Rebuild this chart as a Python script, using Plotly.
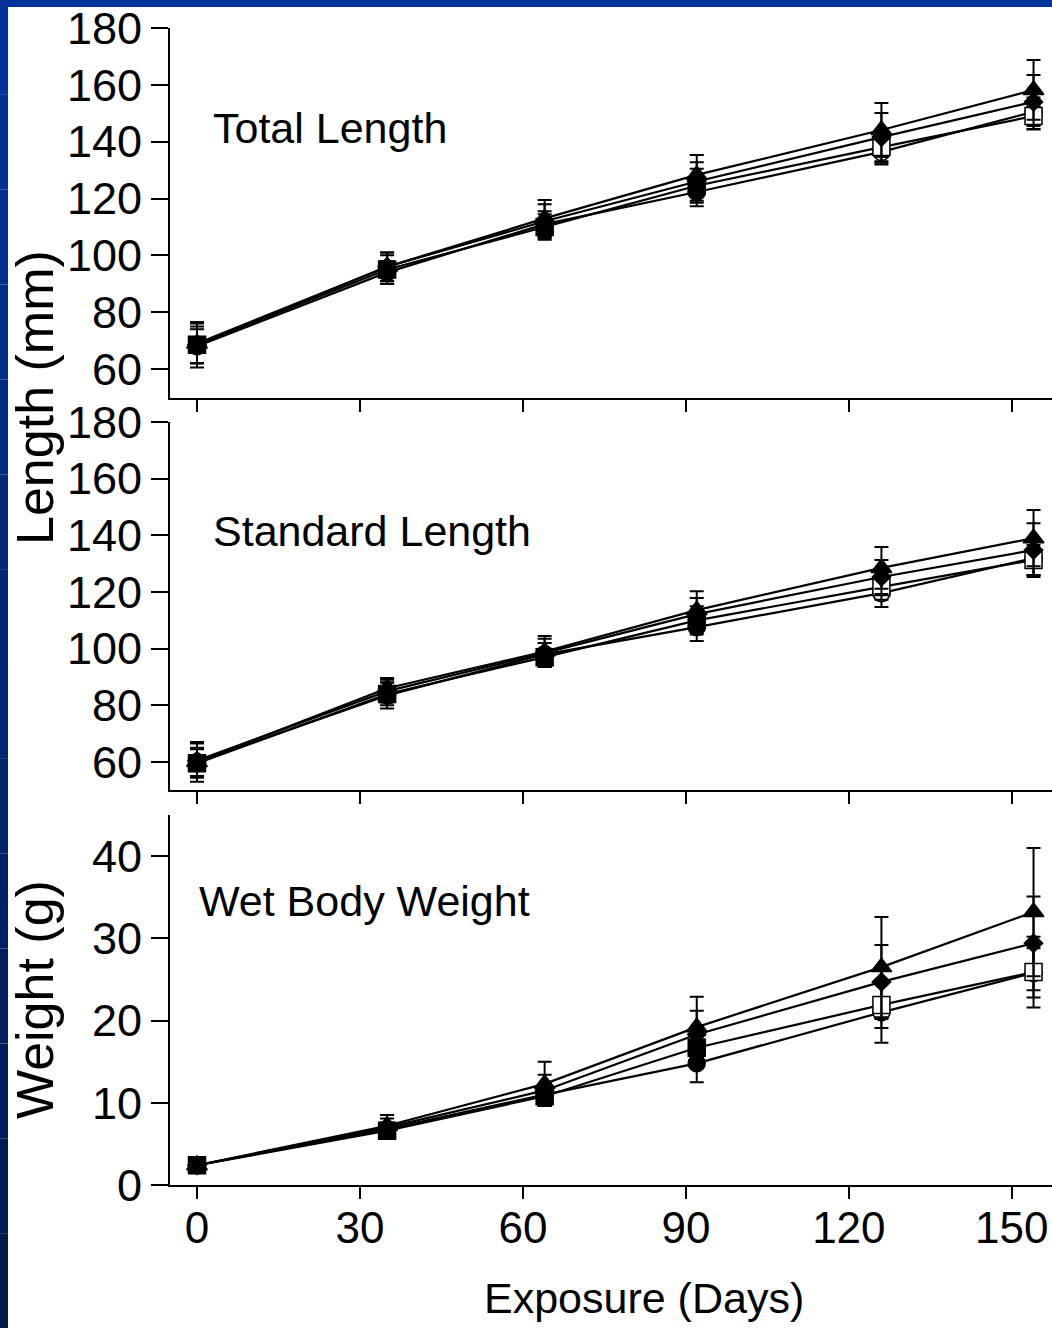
import plotly.graph_objects as go

W, H = 1052, 1328

days = [0, 35, 64, 92, 126, 154]

# Total Length (mm)
tl_tri = [69, 96, 113, 128.3, 144.1, 158.2]
tl_dia = [68.5, 96, 112, 126, 141.6, 154]
tl_sq = [68.5, 95, 110, 124.5, 138.1, 149]
tl_cir = [68, 94, 111, 122.3, 136.4, 150.5]
tl_tri_e = [7, 5, 6.5, 7, 9.5, 10.5]
tl_dia_e = [8, 5, 6, 6.8, 8.5, 9.5]
tl_sq_e = [6.5, 5, 4.5, 6, 5.5, 4.7]
tl_cir_e = [6, 4, 4.5, 5, 4.4, 5]

# Standard Length (mm)
sl_tri = [60, 86, 99, 113.6, 128.5, 139]
sl_dia = [60.5, 85, 98.5, 112.2, 125.3, 134.8]
sl_sq = [59.5, 84, 97, 110, 121.8, 131.3]
sl_cir = [60, 83.5, 98, 107.6, 119.6, 132]
sl_tri_e = [7, 3.6, 5.5, 6.7, 7.4, 9.9]
sl_dia_e = [6, 4, 5, 5.7, 6, 9.5]
sl_sq_e = [5, 4, 3, 5, 4.5, 5.3]
sl_cir_e = [5, 4.6, 4, 4.9, 4.9, 6]

# Wet Body Weight (g)
wt_tri = [2.4, 7.2, 12.3, 19.2, 26.5, 33.2]
wt_dia = [2.4, 7.0, 11.5, 18.3, 24.7, 29.4]
wt_sq = [2.4, 6.6, 10.8, 16.7, 21.9, 25.9]
wt_cir = [2.4, 6.8, 11.0, 14.8, 21.0, 25.8]
wt_tri_e = [0.5, 1.3, 2.7, 3.7, 6.1, 7.8]
wt_dia_e = [0.5, 1.1, 1.9, 2.9, 4.5, 5.7]
wt_sq_e = [0.4, 0.9, 1.2, 2.0, 2.8, 4.3]
wt_cir_e = [0.4, 0.8, 1.0, 2.3, 3.7, 3.0]

x_ticks = [0, 30, 60, 90, 120, 150]
len_ticks = [60, 80, 100, 120, 140, 160, 180]
wt_ticks = [0, 10, 20, 30, 40]

FONT = "Liberation Sans, Arial, sans-serif"
open_fill = ["black", "black", "black", "black", "white", "white"]

fig = go.Figure()

panels = [
    ("x", "y", (tl_cir, tl_cir_e), (tl_sq, tl_sq_e), (tl_dia, tl_dia_e), (tl_tri, tl_tri_e)),
    ("x2", "y2", (sl_cir, sl_cir_e), (sl_sq, sl_sq_e), (sl_dia, sl_dia_e), (sl_tri, sl_tri_e)),
    ("x3", "y3", (wt_cir, wt_cir_e), (wt_sq, wt_sq_e), (wt_dia, wt_dia_e), (wt_tri, wt_tri_e)),
]
styles = [
    ("circle", 17, open_fill),
    ("square", 17, open_fill),
    ("diamond", 14, "black"),
    ("triangle-up", 18, "black"),
]

for xa, ya, *series in panels:
    for (vals, errs), (sym, sz, fill) in zip(series, styles):
        fig.add_trace(go.Scatter(
            x=days, y=vals, xaxis=xa, yaxis=ya, mode="lines+markers",
            line=dict(color="black", width=2.2),
            marker=dict(symbol=sym, size=sz, color=fill,
                        line=dict(color="black", width=1.5)),
            error_y=dict(type="data", array=errs, visible=True,
                         color="black", thickness=2, width=7),
            showlegend=False, cliponaxis=False,
        ))

def px_y(p):
    return 1 - p / H

def px_x(p):
    return p / W

xdom = [px_x(170), 1.0]
xr = [-4.97, 157.4]
common_x = dict(range=xr, domain=xdom, showline=True, linecolor="black", linewidth=2,
                ticks="outside", ticklen=12, tickwidth=2, tickcolor="black",
                tickvals=x_ticks, showgrid=False, zeroline=False, automargin=False,
                tickfont=dict(family=FONT, size=44, color="black"))
common_y = dict(showline=True, linecolor="black", linewidth=2,
                ticks="outside", ticklen=17, tickwidth=2, tickcolor="black",
                showgrid=False, zeroline=False, automargin=False,
                tickfont=dict(family=FONT, size=45, color="black"))

fig.update_layout(
    width=W, height=H, autosize=False,
    margin=dict(l=0, r=0, t=0, b=0, pad=0),
    paper_bgcolor="white", plot_bgcolor="white",
    xaxis=dict(common_x, anchor="y", showticklabels=False),
    xaxis2=dict(common_x, anchor="y2", showticklabels=False),
    xaxis3=dict(common_x, anchor="y3", showticklabels=True, ticklabelstandoff=-9),
    yaxis=dict(common_y, anchor="x", domain=[px_y(398), px_y(28)], range=[49.8, 180], tickvals=len_ticks),
    yaxis2=dict(common_y, anchor="x2", domain=[px_y(790), px_y(422)], range=[50.1, 180], tickvals=len_ticks),
    yaxis3=dict(common_y, anchor="x3", domain=[px_y(1185), px_y(815)], range=[0, 45], tickvals=wt_ticks),
)

ann_font = dict(family=FONT, size=43, color="black")
title_font = dict(family=FONT, size=52, color="black")
annotations = [
    dict(text="Total Length", x=px_x(211), y=px_y(128), xanchor="left", yanchor="middle", font=ann_font),
    dict(text="Standard Length", x=px_x(211), y=px_y(531), xanchor="left", yanchor="middle", font=ann_font),
    dict(text="Wet Body Weight", x=px_x(197), y=px_y(901), xanchor="left", yanchor="middle", font=ann_font),
    dict(text="Length (mm)", x=px_x(35), y=px_y(398), textangle=-90, xanchor="center", yanchor="middle", font=title_font),
    dict(text="Weight (g)", x=px_x(35), y=px_y(1000), textangle=-90, xanchor="center", yanchor="middle", font=title_font),
    dict(text="Exposure (Days)", x=px_x(644), y=px_y(1298), xanchor="center", yanchor="middle", font=ann_font),
]
for a in annotations:
    a.update(xref="paper", yref="paper", showarrow=False)
fig.update_layout(annotations=annotations)

# Blue frame: top band and left band with a dark gradient
shapes = [dict(type="rect", xref="paper", yref="paper", x0=0, x1=1, y0=px_y(7), y1=1,
               fillcolor="#003399", line=dict(width=0), layer="above")]
n = 14
c0 = (0, 51, 153)
c1 = (0, 26, 77)
for i in range(n):
    t = i / (n - 1)
    col = "rgb(%d,%d,%d)" % tuple(round(a + (b - a) * t) for a, b in zip(c0, c1))
    shapes.append(dict(type="rect", xref="paper", yref="paper", x0=0, x1=px_x(8),
                       y0=px_y(H * (i + 1) / n), y1=px_y(H * i / n),
                       fillcolor=col, line=dict(width=0), layer="above"))
fig.update_layout(shapes=shapes)

fig.write_html(
    "out.html",
    config={"displayModeBar": False, "responsive": False},
    post_script="document.body.style.margin='0';document.body.style.padding='0';document.body.style.overflow='hidden';",
)
